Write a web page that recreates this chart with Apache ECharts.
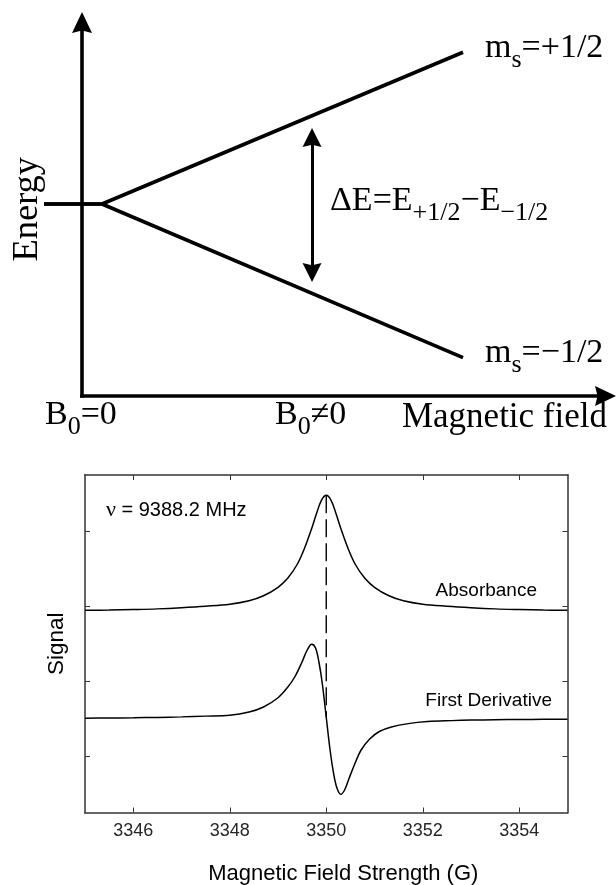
<!DOCTYPE html>
<html>
<head>
<meta charset="utf-8">
<title>Zeeman splitting and EPR spectrum</title>
<script src="https://cdn.jsdelivr.net/npm/echarts@6/dist/echarts.min.js"></script>
<style>
  html, body { margin: 0; padding: 0; background: #fff; }
  #chart { width: 616px; height: 885px; }
</style>
</head>
<body>
<div id="chart"></div>
<script>
// ---- Zeeman energy-level diagram (arbitrary units) ----
const zeemanField = [-0.726, 0.382, 7.278];
const upperLevel = [0, 0, 0.79];     // m_s = +1/2
const lowerLevel = [0, 0, -0.80];    // m_s = -1/2
const gapField = 4.394;              // where the ΔE arrow is drawn
const gapEnergy = [0.346, -0.357];   // ΔE arrow ends

// ---- EPR spectrum ----
const fieldTicks = [3346, 3348, 3350, 3352, 3354];
const signalTicks = [0, 1, 2, 3];

const absField = [3345, 3345.5, 3346, 3346.5, 3347, 3347.5, 3348, 3348.4, 3348.7, 3349,
  3349.2, 3349.4, 3349.55, 3349.7, 3349.8, 3349.9, 3350, 3350.1, 3350.2, 3350.3,
  3350.45, 3350.6, 3350.8, 3351, 3351.3, 3351.6, 3352, 3352.5, 3353, 3353.5, 3354, 3354.5, 3355];
const absSignal = [1.947, 1.949, 1.956, 1.965, 1.98, 2.0, 2.027, 2.073, 2.14, 2.253,
  2.373, 2.56, 2.773, 3.04, 3.24, 3.413, 3.48, 3.413, 3.24, 3.04,
  2.773, 2.56, 2.373, 2.253, 2.14, 2.073, 2.027, 2.0, 1.98, 1.965, 1.956, 1.949, 1.947];

const derField = [3345, 3345.5, 3346, 3346.5, 3347, 3347.5, 3348, 3348.4, 3348.7, 3349,
  3349.2, 3349.35, 3349.5, 3349.6, 3349.7, 3349.78, 3349.85, 3349.92, 3350, 3350.08,
  3350.15, 3350.22, 3350.3, 3350.38, 3350.47, 3350.58, 3350.72, 3350.9, 3351.1, 3351.35,
  3351.7, 3352.1, 3352.6, 3353, 3353.5, 3354, 3354.5, 3355];
const derSignal = [0.507, 0.51, 0.513, 0.518, 0.525, 0.535, 0.547, 0.59, 0.657, 0.78,
  0.92, 1.06, 1.26, 1.41, 1.493, 1.44, 1.25, 0.96, 0.52, 0.08,
  -0.22, -0.42, -0.507, -0.45, -0.3, -0.12, 0.08, 0.23, 0.33, 0.39,
  0.435, 0.462, 0.475, 0.482, 0.487, 0.49, 0.492, 0.493];

const resonanceField = 3350;

const pairs = (xs, ys) => xs.map((x, i) => [x, ys[i]]);
const resonanceAbs = absSignal[absField.indexOf(resonanceField)];
const resonanceDer = derSignal[derField.indexOf(resonanceField)];

const arrowHead = 'path://M10,0L20,21L10,18.5L0,21Z';
const serif = 'Liberation Serif';
const sans = 'Liberation Sans';

// main text sits on a raised baseline so the subscripts drop below it
const rich = {
  m: { fontFamily: serif, fontSize: 34, fill: '#000', verticalAlign: 'bottom', padding: [0, 0, 8, 0] },
  s: { fontFamily: serif, fontSize: 26, fill: '#000', verticalAlign: 'bottom' }
};
const richText = (x, y, text) => ({
  type: 'text', x: x, y: y, silent: true,
  style: { text: text, rich: rich, align: 'left', verticalAlign: 'bottom' }
});
const plainText = (x, y, text, size, family, align) => ({
  type: 'text', x: x, y: y, silent: true,
  style: { text: text, fontFamily: family, fontSize: size, fill: '#000', align: align, verticalAlign: 'middle' }
});

const frameLine = { color: '#333', width: 1.5, cap: 'square' };
const frameTick = (vals) => ({ show: true, inside: true, length: 5, customValues: vals, lineStyle: { color: '#333', width: 1 } });
const hiddenAxis = { show: false, axisLine: { show: false }, axisTick: { show: false }, axisLabel: { show: false }, splitLine: { show: false } };

const chart = echarts.init(document.getElementById('chart'), null, { renderer: 'canvas' });

chart.setOption({
  animation: false,
  backgroundColor: '#fff',
  grid: [
    // axes of the energy diagram
    { left: 82, top: 22.5, right: 10.5, bottom: 489, containLabel: false, outerBoundsMode: 'none' },
    // spectrum frame
    { left: 85, top: 475, right: 48.5, bottom: 72.5, containLabel: false, outerBoundsMode: 'none' },
    // energy levels, same scale as grid 0 but reaching left of the energy axis
    { left: 44, top: 22.5, right: 10.5, bottom: 489, containLabel: false, outerBoundsMode: 'none' }
  ],
  xAxis: [
    {
      gridIndex: 0, type: 'value', min: 0, max: 10,
      axisLine: { show: true, onZero: false, symbol: ['none', arrowHead], symbolSize: [20, 21],
        lineStyle: { color: '#000', width: 3.6, cap: 'square' } },
      axisTick: { show: false }, axisLabel: { show: false }, splitLine: { show: false }
    },
    {
      gridIndex: 1, type: 'value', min: 3345, max: 3355, position: 'bottom',
      axisLine: { show: true, onZero: false, lineStyle: frameLine },
      axisTick: frameTick(fieldTicks),
      axisLabel: { show: true, customValues: fieldTicks, formatter: (v) => String(v), margin: 10,
        fontFamily: sans, fontSize: 18, color: '#262626' },
      splitLine: { show: false },
      name: 'Magnetic Field Strength (G)', nameLocation: 'middle', nameGap: 50,
      nameTextStyle: { fontFamily: sans, fontSize: 22, color: '#000', padding: [0, 0, 0, 34] }
    },
    {
      gridIndex: 1, type: 'value', min: 3345, max: 3355, position: 'top',
      axisLine: { show: true, onZero: false, lineStyle: frameLine },
      axisTick: frameTick(fieldTicks),
      axisLabel: { show: false }, splitLine: { show: false }
    },
    Object.assign({ gridIndex: 2, type: 'value', min: zeemanField[0], max: 10 }, hiddenAxis)
  ],
  yAxis: [
    {
      gridIndex: 0, type: 'value', min: -1, max: 0.945,
      axisLine: { show: true, onZero: false, symbol: ['none', arrowHead], symbolSize: [20, 21],
        lineStyle: { color: '#000', width: 3.6, cap: 'square' } },
      axisTick: { show: false }, axisLabel: { show: false }, splitLine: { show: false },
      name: 'Energy', nameLocation: 'middle', nameGap: 36,
      nameTextStyle: { fontFamily: serif, fontSize: 36.5, color: '#000' }
    },
    {
      gridIndex: 1, type: 'value', min: -0.75, max: 3.75, position: 'left',
      axisLine: { show: true, onZero: false, lineStyle: frameLine },
      axisTick: frameTick(signalTicks),
      axisLabel: { show: false }, splitLine: { show: false },
      name: 'Signal', nameLocation: 'middle', nameGap: 17,
      nameTextStyle: { fontFamily: sans, fontSize: 22.5, color: '#000' }
    },
    {
      gridIndex: 1, type: 'value', min: -0.75, max: 3.75, position: 'right',
      axisLine: { show: true, onZero: false, lineStyle: frameLine },
      axisTick: frameTick(signalTicks),
      axisLabel: { show: false }, splitLine: { show: false }
    },
    Object.assign({ gridIndex: 2, type: 'value', min: -1, max: 0.945 }, hiddenAxis)
  ],
  series: [
    {
      name: 'm_s = +1/2', type: 'line', xAxisIndex: 3, yAxisIndex: 3,
      data: pairs(zeemanField, upperLevel), symbol: 'none', silent: true,
      lineStyle: { color: '#000', width: 3.6 }
    },
    {
      name: 'm_s = -1/2', type: 'line', xAxisIndex: 3, yAxisIndex: 3,
      data: pairs(zeemanField, lowerLevel), symbol: 'none', silent: true,
      lineStyle: { color: '#000', width: 3.6 },
      markLine: {
        silent: true, animation: false,
        symbol: [arrowHead, arrowHead], symbolSize: 19,
        label: { show: false },
        lineStyle: { color: '#000', width: 3, type: 'solid' },
        emphasis: { disabled: true },
        data: [[{ coord: [gapField, gapEnergy[0]] }, { coord: [gapField, gapEnergy[1]] }]]
      }
    },
    {
      name: 'Resonance', type: 'line', xAxisIndex: 1, yAxisIndex: 1, silent: true,
      data: [[resonanceField, resonanceAbs], [resonanceField, resonanceDer]], symbol: 'none',
      lineStyle: { color: '#000', width: 1.4, type: [18, 6] }
    },
    {
      name: 'Absorbance', type: 'line', xAxisIndex: 1, yAxisIndex: 1, silent: true,
      data: pairs(absField, absSignal), smooth: 0.35, symbol: 'none',
      lineStyle: { color: '#000', width: 1.5 }
    },
    {
      name: 'First Derivative', type: 'line', xAxisIndex: 1, yAxisIndex: 1, silent: true,
      data: pairs(derField, derSignal), smooth: 0.35, symbol: 'none',
      lineStyle: { color: '#000', width: 1.5 }
    }
  ],
  graphic: [
    richText(485, 73.5, '{m|m}{s|s}{m|=+1/2}'),
    richText(485, 378.5, '{m|m}{s|s}{m|=−1/2}'),
    richText(330, 226.5, '{m|ΔE=E}{s|+1/2}{m|−E}{s|−1/2}'),
    richText(45, 440.5, '{m|B}{s|0}{m|=0}'),
    richText(275, 440.5, '{m|B}{s|0}{m|≠0}'),
    plainText(607, 417.5, 'Magnetic field', 35, serif, 'right'),
    {
      type: 'text', x: 106, y: 510, silent: true,
      style: {
        text: '{n|ν}{t| = 9388.2 MHz}', align: 'left', verticalAlign: 'middle',
        rich: {
          n: { fontFamily: serif, fontSize: 22, fill: '#000' },
          t: { fontFamily: sans, fontSize: 20, fill: '#000' }
        }
      }
    },
    plainText(537, 590.4, 'Absorbance', 19, sans, 'right'),
    plainText(552, 700.4, 'First Derivative', 19, sans, 'right')
  ]
});
</script>
</body>
</html>
